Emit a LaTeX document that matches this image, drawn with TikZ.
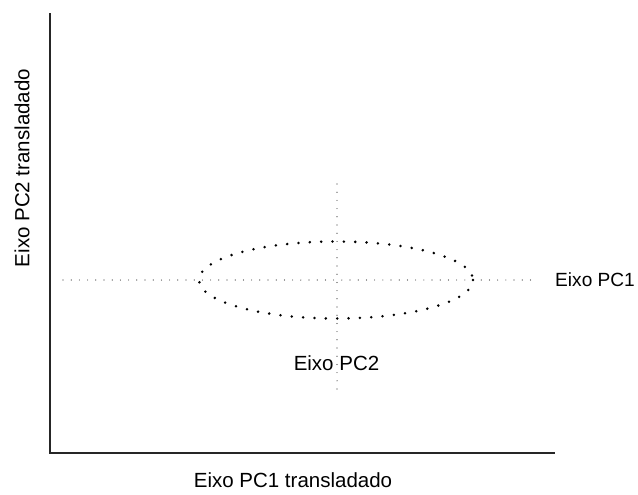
\documentclass[tikz,border=0pt]{standalone}
\usepackage{fontspec}
\setmainfont{Liberation Sans}
\begin{document}
\begin{tikzpicture}[x=0.03cm, y=-0.03cm,
		axisline/.style={line width=1.1pt, black!85},
		thindots/.style={line width=1pt, line cap=round, dash pattern=on 0pt off 7pt, black!80},
		elldots/.style={line width=2.4pt, line cap=round, dash pattern=on 0pt off 9.7pt},
		lbl/.style={inner sep=0pt, font=\fontsize{17.5}{20}\selectfont}]
	\useasboundingbox (0,0) rectangle (638,494);
	% eixos transladados
	\coordinate (ytop) at (50,13);
	\coordinate (origin) at (50,453);
	\coordinate (xend) at (555,453);
	\draw[axisline] (ytop) -- (origin) -- (xend);
	% eixos PC1 e PC2
	\coordinate (centre) at (336,280);
	\coordinate (pcAleft) at (63,280);
	\coordinate (pcAright) at (535,280);
	\coordinate (pcBtop) at (337,184);
	\coordinate (pcBbottom) at (337,393);
	\draw[thindots] (pcAleft) -- (pcAright);
	\draw[thindots] (pcBtop) -- (pcBbottom);
	\draw[elldots] (centre) ellipse [x radius=137, y radius=38.5];
	% textos
	\node[lbl, anchor=west, font=\fontsize{16.3}{18}\selectfont] (pcAlabel) at (555,280) {Eixo PC1};
	\node[lbl] (pcBlabel) at (336.5,363) {Eixo PC2};
	\node[lbl] (xlabel) at (293,480) {Eixo PC1 transladado};
	\node[lbl, rotate=90] (ylabel) at (22,168) {Eixo PC2 transladado};
\end{tikzpicture}
\end{document}
